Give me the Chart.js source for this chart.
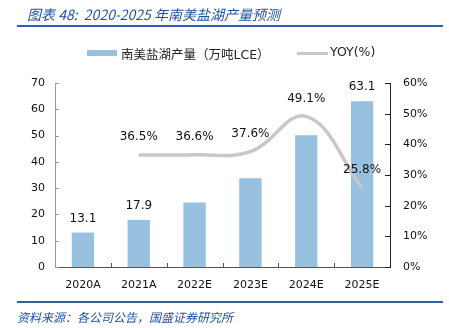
<!DOCTYPE html>
<html>
<head>
<meta charset="utf-8">
<script src="https://cdn.jsdelivr.net/npm/chart.js@4"></script>
<style>
  html, body { margin: 0; padding: 0; background: #fff; }
  #wrap { position: relative; width: 449px; height: 328px; overflow: hidden; }
  #c { position: absolute; left: 0; top: 0; }
  .title {
    position: absolute; left: 27px; top: 4px;
    font: italic 14px "Noto Sans CJK SC", "DejaVu Sans", sans-serif;
    color: #2152a3; white-space: nowrap;
  }
  .rule { position: absolute; left: 17px; width: 426px; height: 2px; background: #2e5fa8; }
  .foot {
    position: absolute; left: 17px; top: 308px;
    font: italic 12px "Noto Sans CJK SC", sans-serif;
    color: #2152a3; white-space: nowrap;
  }
  .leg { position: absolute; top: 44px; font: 12.5px "DejaVu Sans", "Noto Sans CJK SC", sans-serif; color: #222; white-space: nowrap; }
  .sw { position: absolute; }
</style>
</head>
<body>
<div id="wrap">
  <canvas id="c" width="449" height="328"></canvas>
  <div class="title">图表 48:&nbsp; 2020-2025 年南美盐湖产量预测</div>
  <div class="rule" style="top:25px"></div>

  <div class="sw" style="left:87px; top:50px; width:30px; height:6px; background:#97c1df"></div>
  <div class="leg" style="left:121px">南美盐湖产量（万吨LCE）</div>
  <div class="sw" style="left:297px; top:52px; width:31px; height:3px; background:#c8c8c8"></div>
  <div class="leg" style="left:330px">YOY(%)</div>

  <div class="rule" style="top:301px"></div>
  <div class="foot">资料来源：各公司公告，国盛证券研究所</div>
</div>

<script>
// 数据
const anos      = ["2020A", "2021A", "2022E", "2023E", "2024E", "2025E"];
const producao  = [13.1, 17.9, 24.5, 33.8, 50.1, 63.1];
const yoy       = [null, 36.5, 36.6, 37.6, 49.1, 25.8];
const barrasComRotulo = [0, 1, 5];

const nomeBarra = "南美盐湖产量（万吨LCE）";
const nomeLinha = "YOY(%)";

const fonteTick = { family: "DejaVu Sans", size: 11 };

/* -------------------------------
   marcas de eixo para dentro + rótulos
   ------------------------------- */
const marcasERotulos = {
    id: "marcasERotulos",
    afterDatasetsDraw(chart) {
        const ctx = chart.ctx;
        const area = chart.chartArea;
        const { x, y, y1 } = chart.scales;

        ctx.save();
        ctx.lineWidth = 1;

        // eixo esquerdo
        ctx.strokeStyle = "#9a9a9a";
        y.ticks.forEach(t => {
            const py = Math.round(y.getPixelForValue(t.value)) + 0.5;
            ctx.beginPath(); ctx.moveTo(area.left, py); ctx.lineTo(area.left + 4, py); ctx.stroke();
        });

        // eixo direito
        ctx.strokeStyle = "#222";
        y1.ticks.forEach(t => {
            const py = Math.round(y1.getPixelForValue(t.value)) + 0.5;
            ctx.beginPath(); ctx.moveTo(area.right - 5, py); ctx.lineTo(area.right, py); ctx.stroke();
        });

        // eixo x, entre categorias
        ctx.strokeStyle = "#555";
        for (let i = 1; i < anos.length; i++) {
            const px = Math.round((x.getPixelForValue(i - 1) + x.getPixelForValue(i)) / 2) + 0.5;
            ctx.beginPath(); ctx.moveTo(px, area.bottom); ctx.lineTo(px, area.bottom - 4); ctx.stroke();
        }

        // rótulos
        ctx.fillStyle = "#111";
        ctx.font = "12px 'DejaVu Sans'";
        ctx.textAlign = "center";
        ctx.textBaseline = "middle";

        const barras = chart.getDatasetMeta(0).data;
        barrasComRotulo.forEach(i => {
            ctx.fillText(producao[i].toFixed(1), barras[i].x, barras[i].y - 14);
        });

        const pontos = chart.getDatasetMeta(1).data;
        yoy.forEach((v, i) => {
            if (v == null) return;
            ctx.fillText(v.toFixed(1) + "%", pontos[i].x, pontos[i].y - 18);
        });
        ctx.restore();
    }
};

new Chart(document.getElementById("c"), {
    data: {
        labels: anos,
        datasets: [
            {
                type: "bar",
                label: nomeBarra,
                data: producao,
                yAxisID: "y",
                backgroundColor: "#97c1df",
                categoryPercentage: 1,
                barPercentage: 0.4,
                order: 1
            },
            {
                type: "line",
                label: nomeLinha,
                data: yoy,
                yAxisID: "y1",
                borderColor: "#c8c8c8",
                borderWidth: 3.5,
                pointRadius: 0,
                tension: 0.4,
                order: 0
            }
        ]
    },
    options: {
        responsive: false,
        animation: false,
        layout: { padding: { top: 83, left: 0, right: 0, bottom: 0 } },
        plugins: {
            legend: { display: false },
            tooltip: { enabled: false }
        },
        scales: {
            x: {
                grid: { display: false, drawTicks: false },
                border: { display: true, color: "#555" },
                ticks: { color: "#111", font: fonteTick, padding: 12, maxRotation: 0 },
                afterFit(s) { s.height = 61; }
            },
            y: {
                position: "left",
                min: 0, max: 70,
                ticks: { stepSize: 10, color: "#111", font: fonteTick, padding: 10 },
                grid: { display: false, drawTicks: false },
                border: { display: true, color: "#9a9a9a" },
                afterFit(s) { s.width = 55; }
            },
            y1: {
                position: "right",
                min: 0, max: 60,
                ticks: { stepSize: 10, color: "#111", font: fonteTick, padding: 13, callback: v => v + "%" },
                grid: { display: false, drawTicks: false },
                border: { display: true, color: "#222" },
                afterFit(s) { s.width = 59; }
            }
        }
    },
    plugins: [marcasERotulos]
});
</script>
</body>
</html>
